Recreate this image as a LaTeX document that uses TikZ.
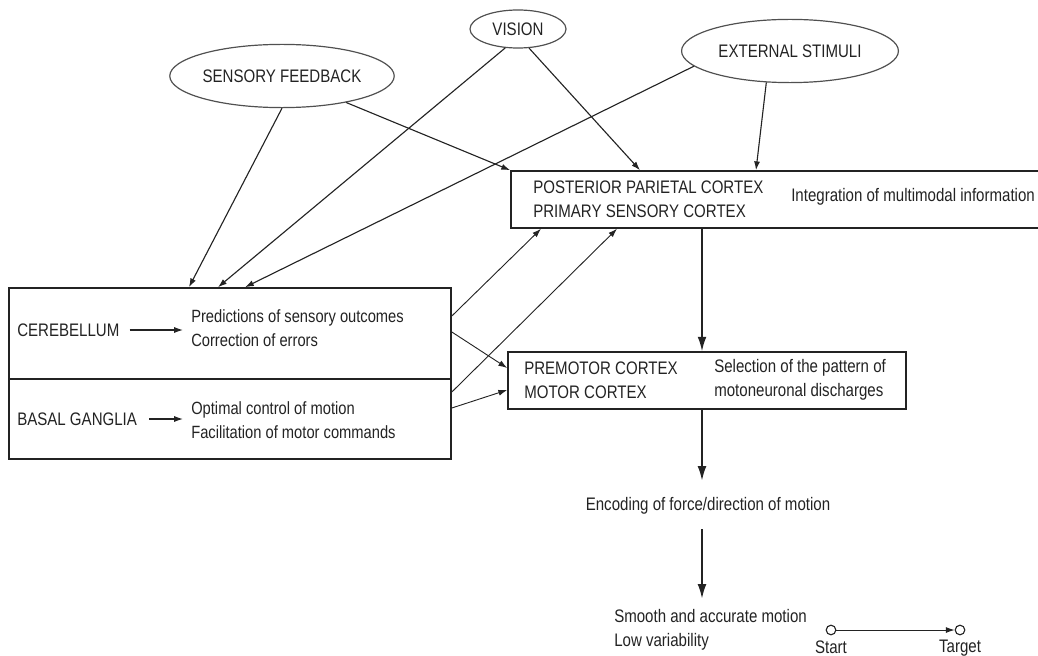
\documentclass[tikz,border=0pt]{standalone}
\usepackage{fontspec}
\setmainfont{Liberation Sans}[FakeStretch=0.83]
\usetikzlibrary{shapes.geometric,arrows.meta,positioning}
\definecolor{inkgray}{RGB}{35,35,35}
\definecolor{rimgray}{RGB}{80,80,80}

\begin{document}
\begin{tikzpicture}[
  x=0.025cm, y=-0.025cm,
  every node/.style={text=inkgray, font=\fontsize{12.9}{17}\selectfont},
  src/.style={draw=rimgray, ellipse, line width=0.85pt, inner sep=0},
  panel/.style={draw=inkgray, rectangle, line width=1.1pt, inner sep=0},
  lbl/.style={align=left, anchor=west, inner sep=0},
  small/.style={font=\fontsize{12.6}{17}\selectfont},
  arr/.style={-{Latex[length=2.2mm,width=1.5mm]}, line width=0.8pt, draw=inkgray},
  flow/.style={-{Latex[length=3.6mm,width=2.2mm]}, line width=1.1pt, draw=inkgray},
  pin/.style={draw=inkgray, circle, line width=0.8pt, minimum size=0.24cm, inner sep=0}
]
\clip (0,0) rectangle (1038,656);

% inputs
\node[src, minimum width=5.4cm, minimum height=1.58cm] (sensory) at (282,76) {SENSORY FEEDBACK};
\node[src, minimum width=2.4cm, minimum height=0.95cm] (vision) at (518,29) {VISION};
\node[src, minimum width=5.42cm, minimum height=1.58cm] (external) at (790,51) {EXTERNAL STIMULI};

% cortical boxes
\node[panel, minimum width=13.5cm, minimum height=1.425cm] (ppc) at (781,199.5) {};
\node[lbl] (ppcname) at (533,199.5) {POSTERIOR PARIETAL CORTEX\\PRIMARY SENSORY CORTEX};
\node[lbl] (ppcrole) at (791,197) {Integration of multimodal information};

\node[panel, minimum width=9.95cm, minimum height=1.425cm] (premotor) at (707,380.5) {};
\node[lbl] (pmname) at (524,380) {PREMOTOR CORTEX\\MOTOR CORTEX};
\node[lbl] (pmrole) at (714,380) {Selection of the pattern of\\motoneuronal discharges};

% subcortical boxes
\node[panel, minimum width=11.05cm, minimum height=2.275cm] (cereb) at (230,333.5) {};
\node[panel, minimum width=11.05cm, minimum height=2cm] (basal) at (230,419) {};
\node[lbl] (cbname) at (17,330) {CEREBELLUM};
\node[lbl, small] (cbrole) at (191,328.5) {Predictions of sensory outcomes\\Correction of errors};
\node[lbl] (bgname) at (17,419) {BASAL GANGLIA};
\node[lbl, small] (bgrole) at (191,420) {Optimal control of motion\\Facilitation of motor commands};

% outputs
\node (encode) at (708,506) {Encoding of force/direction of motion};
\node[lbl] (smooth) at (614,630) {Smooth and accurate motion\\Low variability};
\node[pin] (start) at (831,630) {};
\node[pin] (target) at (960,630) {};
\node[below=0pt of start] (startlbl) {Start};
\node[below=0pt of target] (targetlbl) {Target};

% connections
\draw[arr] (sensory.south) -- (189,0 |- cereb.north);
\draw[arr] (sensory) -- (ppc.north west);
\draw[arr] (vision.236) -- (218,0 |- cereb.north);
\draw[arr] (vision.300) -- (640,0 |- ppc.north);
\draw[arr] (external.189) -- (245,0 |- cereb.north);
\draw[arr] (external.233) -- (756,0 |- ppc.north);

\draw[arr] (cbname.east) ++(10,0) -- (cbname.east -| 183,0);
\draw[arr] (bgname.east) ++(12,0) -- (bgname.east -| 183,0);

\draw[arr, line width=0.65pt] (cereb.east |- 0,316) -- (541,0 |- ppc.south);
\draw[arr, line width=0.65pt] (cereb.east |- 0,332) -- (premotor.west |- 0,368);
\draw[arr, line width=0.65pt] (basal.east |- 0,392) -- (617,0 |- ppc.south);
\draw[arr, line width=0.65pt] (basal.east |- 0,408) -- (premotor.west |- 0,390);

\draw[flow] (ppc.south -| 702,0) -- (premotor.north -| 702,0);
\draw[flow, shorten >=0.3cm] (premotor.south -| 702,0) -- (encode.north -| 702,0);
\draw[flow, shorten <=0.25cm, shorten >=0.27cm] (encode.south -| 702,0) -- (smooth.north -| 702,0);
\draw[arr, line width=0.65pt] (start) -- (target);
\end{tikzpicture}
\end{document}
